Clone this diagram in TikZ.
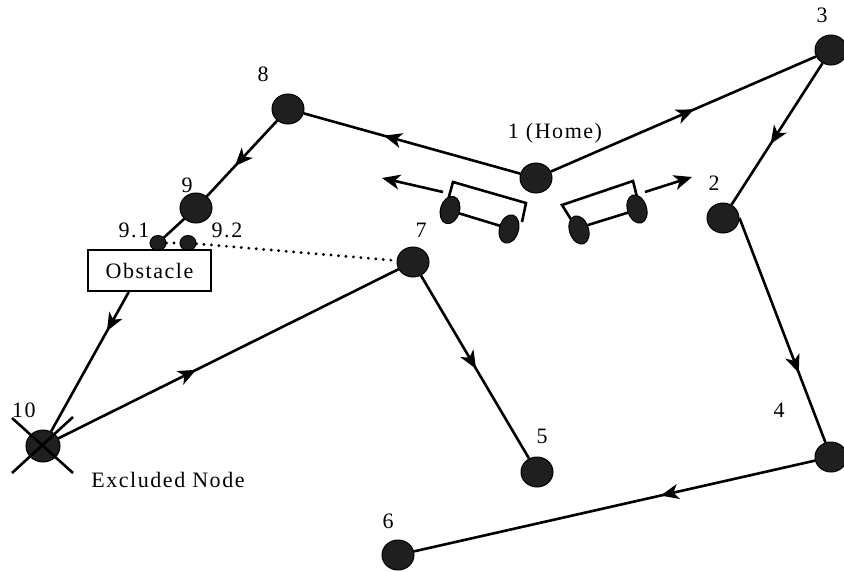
\documentclass[tikz,border=0pt]{standalone}
\usepackage{fontspec}
\setmainfont{Liberation Serif}
\newfontfamily\lblfont[LetterSpace=7]{Liberation Serif}
\usetikzlibrary{arrows.meta,decorations.markings,shapes.geometric}

\begin{document}
\begin{tikzpicture}[x=1pt,y=-1pt,
  site/.style={ellipse,draw=black,line width=1pt,fill=black!88,
    minimum width=32pt,minimum height=30pt,inner sep=0pt},
  subsite/.style={site,minimum width=16pt,minimum height=15pt},
  lbl/.style={anchor=base,inner sep=0pt,font=\lblfont\fontsize{22}{24}\selectfont},
  route/.style={line width=2.6pt},
  midarrow/.style={postaction={decorate},decoration={markings,
    mark=at position #1 with {\arrow{Stealth[length=18pt,width=15pt,inset=5pt]}}}},
  dotline/.style={line width=3.2pt,dash pattern=on 0pt off 7.5pt,line cap=round},
  blocker/.style={draw,line width=2pt,minimum width=123pt,minimum height=41pt,
    inner sep=0pt,font=\lblfont\fontsize{22}{24}\selectfont},
  wheel/.style={draw=black,line width=1pt,fill=black!88}
]
\useasboundingbox (0,0) rectangle (844,571);

% locations
\node[site] (n1) at (536,178) {};
\node[site] (n2) at (723,218) {};
\node[site] (n3) at (831,50) {};
\node[site] (n4) at (831,457) {};
\node[site] (n5) at (537,472) {};
\node[site] (n6) at (398,555) {};
\node[site] (n7) at (413,262) {};
\node[site] (n8) at (288,109) {};
\node[site] (n9) at (196,208) {};
\node[subsite] (n91) at (158,243) {};
\node[subsite] (n92) at (188,243) {};
\node[site,minimum width=34pt,minimum height=32pt] (n10) at (43,446) {};
\node[blocker] (obs) at (149.5,270.5) {Obstacle};

% cross over the excluded node
\draw[route] ([shift={(-31,-28)}]n10.center) -- ([shift={(30,27)}]n10.center);
\draw[route] ([shift={(30,-29)}]n10.center) -- ([shift={(-31,27)}]n10.center);

% tour
\draw[route,midarrow=0.54] (n1) -- (n3);
\draw[route,midarrow=0.57] (n3) -- (n2);
\draw[route,midarrow=0.69] (n2.east) -- (n4);
\draw[route,midarrow=0.385] (n4) -- (n6);
\draw[route,midarrow=0.63] (n1) -- (n8);
\draw[route,midarrow=0.6] (n8) -- (n9);
\draw[route] (n9) -- (n91);
\draw[route,midarrow=0.28] (obs.-134) -- (n10);
\draw[route,midarrow=0.405] (n10) -- (n7);
\draw[route,midarrow=0.51] (n7) -- (n5);

% detour around the obstacle
\draw[dotline] (n91) -- (n92);
\draw[dotline] (n92) -- (n7);

% left robot
\draw[route,line join=miter] (448,200) -- (453,182) -- (526,203) -- (522,222);
\draw[route] (458,213) -- (504,227);
\draw[wheel,rotate around={-16:(450,210)}] (450,210) ellipse [x radius=9.5pt,y radius=14pt];
\draw[wheel,rotate around={-16:(509,229)}] (509,229) ellipse [x radius=9.5pt,y radius=14.5pt];
\coordinate (la0) at (443,192);
\coordinate (la1) at (382,178);
\draw[route,-{Stealth[length=18pt,width=15pt,inset=5pt]}] (la0) -- (la1);

% right robot
\draw[route,line join=miter] (572,221) -- (562,205) -- (633,181) -- (637,197);
\draw[route] (588,225) -- (630,212);
\draw[wheel,rotate around={18:(579,230)}] (579,230) ellipse [x radius=9.5pt,y radius=14.5pt];
\draw[wheel,rotate around={18:(637,209)}] (637,209) ellipse [x radius=9.5pt,y radius=14.5pt];
\coordinate (ra0) at (645,192);
\coordinate (ra1) at (692,177);
\draw[route,-{Stealth[length=18pt,width=15pt,inset=5pt]}] (ra0) -- (ra1);

% labels
\node[lbl] (t1) at (555,138) {1 (Home)};
\node[lbl] (t2) at (714,190) {2};
\node[lbl] (t3) at (822,22) {3};
\node[lbl] (t4) at (779,417) {4};
\node[lbl] (t5) at (542,443) {5};
\node[lbl] (t6) at (388,528) {6};
\node[lbl] (t7) at (421,237) {7};
\node[lbl] (t8) at (263,81) {8};
\node[lbl] (t9) at (187,192) {9};
\node[lbl] (t91) at (134,237) {9.1};
\node[lbl] (t92) at (227,237) {9.2};
\node[lbl] (t10) at (24,417) {10};
\node[lbl] (tx) at (168,487) {Excluded Node};
\end{tikzpicture}
\end{document}
